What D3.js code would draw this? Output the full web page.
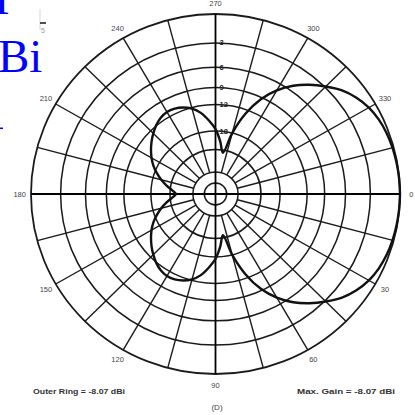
<!DOCTYPE html>
<html>
<head>
<meta charset="utf-8">
<script src="https://cdn.jsdelivr.net/npm/d3@7"></script>
<style>
  html, body { margin: 0; padding: 0; background: #fff; }
  svg { display: block; }
</style>
</head>
<body>
<svg id="chart" width="415" height="415"></svg>
<script>
// Azimuth pattern, ARRL-style log-periodic radial scale (0 dB = outer ring).
const patternAngles = [
  0, 5, 10, 15, 20, 25, 30, 35, 40, 45, 50, 55,
  60, 65, 70, 75, 80, 85, 90, 95, 100, 105, 110, 115,
  120, 125, 130, 135, 140, 145, 150, 155, 160, 165, 170, 175,
  180, 185, 190, 195, 200, 205, 210, 215, 220, 225, 230, 235,
  240, 245, 250, 255, 260, 265, 270, 275, 280, 285, 290, 295,
  300, 305, 310, 315, 320, 325, 330, 335, 340, 345, 350, 355
];
const patternGainDb = [
  0, -0.02, -0.06, -0.12, -0.22, -0.4, -0.7, -1.2, -1.9, -2.9, -4.0, -5.3,
  -7.0, -9.3, -12.8, -18.0, -25.0, -21.0, -17.5, -15.3, -13.4, -12.2, -11.5, -11.1,
  -11.0, -11.3, -11.9, -12.7, -13.6, -14.6, -15.7, -17.0, -18.6, -20.4, -22.5, -24.8,
  -26.4, -24.8, -22.5, -20.4, -18.6, -17.0, -15.7, -14.6, -13.6, -12.7, -11.9, -11.3,
  -11.0, -11.1, -11.5, -12.2, -13.4, -15.3, -17.5, -21.0, -25.0, -18.0, -12.8, -9.3,
  -7.0, -5.3, -4.0, -2.9, -1.9, -1.2, -0.7, -0.4, -0.22, -0.12, -0.06, -0.02
];

// Grid
const ringLevelsDb = [0, -3, -6, -9, -12, -18, -24, -36, -48];
const ringLabelDb = [-3, -6, -9, -12, -18];
const ringLabelText = ["3", "6", "9", "12", "18"];
const spokeAngles = [15, 30, 45, 60, 75, 105, 120, 135, 150, 165, 195, 210, 225, 240, 255, 285, 300, 315, 330, 345];
const axisAngles = [0, 90];
const angleTickValues = [0, 30, 60, 90, 120, 150, 180, 210, 240, 270, 300, 330];
const angleTickText = ["0", "30", "60", "90", "120", "150", "180", "210", "240", "270", "300", "330"];

const footerLeft = "Outer Ring = -8.07 dBi";
const footerRight = "Max. Gain = -8.07 dBi";
const footerCaption = "(D)";

const cx = 215.5, cy = 194, R = 180, sx = 1.025;
const innerSpokeDb = -36;

const svg = d3.select("#chart");

// power ratio^0.2533 reproduces the 0.89-per-2-dB log-periodic grid
const rScale = d3.scalePow().exponent(0.2533).domain([0, 1]).range([0, R]);
const rDb = db => rScale(Math.pow(10, db / 10));
const toRad = deg => (deg + 90) * Math.PI / 180; // 0° at right, clockwise

const plot = svg.append("g").attr("transform", `translate(${cx},${cy}) scale(${sx},1)`);

// rings
plot.selectAll("circle.ring").data(ringLevelsDb).join("circle")
  .attr("class", "ring")
  .attr("r", d => rDb(d))
  .attr("fill", "none")
  .attr("stroke", "#1a1a1a")
  .attr("stroke-width", d => d === 0 ? 1.8 : 1.5)
  .attr("vector-effect", "non-scaling-stroke");

// spokes
const r0 = rDb(innerSpokeDb);
plot.selectAll("line.spoke").data(spokeAngles).join("line")
  .attr("class", "spoke")
  .attr("x1", d => r0 * Math.sin(toRad(d)))
  .attr("y1", d => -r0 * Math.cos(toRad(d)))
  .attr("x2", d => R * Math.sin(toRad(d)))
  .attr("y2", d => -R * Math.cos(toRad(d)))
  .attr("stroke", "#1a1a1a")
  .attr("stroke-width", 1.4)
  .attr("vector-effect", "non-scaling-stroke");

// main axes through the centre
plot.selectAll("line.axis").data(axisAngles).join("line")
  .attr("class", "axis")
  .attr("x1", d => -R * Math.sin(toRad(d)))
  .attr("y1", d => R * Math.cos(toRad(d)))
  .attr("x2", d => R * Math.sin(toRad(d)))
  .attr("y2", d => -R * Math.cos(toRad(d)))
  .attr("stroke", "#000")
  .attr("stroke-width", 1.8)
  .attr("vector-effect", "non-scaling-stroke");

// pattern trace
const patternData = patternAngles.map((a, i) => ({ a, db: patternGainDb[i] }));
const radial = d3.lineRadial()
  .angle(d => toRad(d.a))
  .radius(d => rDb(d.db))
  .curve(d3.curveCatmullRomClosed.alpha(0.5));
plot.append("path")
  .datum(patternData)
  .attr("d", radial)
  .attr("fill", "none")
  .attr("stroke", "#111")
  .attr("stroke-width", 2.4)
  .attr("stroke-linejoin", "round")
  .attr("vector-effect", "non-scaling-stroke");

// ring level labels along the 270° axis
svg.selectAll("text.ringlab").data(ringLabelDb).join("text")
  .attr("class", "ringlab")
  .attr("x", cx + 4)
  .attr("y", d => cy - rDb(d))
  .attr("dominant-baseline", "central")
  .attr("font-family", "Liberation Sans, Arial, sans-serif")
  .attr("font-size", 7.5)
  .attr("font-weight", "bold")
  .attr("fill", "#222")
  .text((d, i) => ringLabelText[i]);

// azimuth labels
const labR = 191;
svg.selectAll("text.azlab").data(angleTickValues).join("text")
  .attr("class", "azlab")
  .attr("x", d => cx + sx * labR * Math.sin(toRad(d)))
  .attr("y", d => cy - labR * Math.cos(toRad(d)))
  .attr("text-anchor", "middle")
  .attr("dominant-baseline", "central")
  .attr("font-family", "Liberation Sans, Arial, sans-serif")
  .attr("font-size", 7.5)
  .attr("fill", "#444")
  .text((d, i) => angleTickText[i]);

// footer
svg.append("text")
  .attr("x", 33).attr("y", 394)
  .attr("font-family", "Liberation Sans, Arial, sans-serif")
  .attr("font-size", 7.5).attr("font-weight", "bold").attr("fill", "#333")
  .attr("textLength", 92).attr("lengthAdjust", "spacingAndGlyphs")
  .text(footerLeft);
svg.append("text")
  .attr("x", 297).attr("y", 394)
  .attr("font-family", "Liberation Sans, Arial, sans-serif")
  .attr("font-size", 7.5).attr("font-weight", "bold").attr("fill", "#333")
  .attr("textLength", 98).attr("lengthAdjust", "spacingAndGlyphs")
  .text(footerRight);
svg.append("text")
  .attr("x", 217).attr("y", 410)
  .attr("text-anchor", "middle")
  .attr("font-family", "Liberation Sans, Arial, sans-serif")
  .attr("font-size", 8).attr("fill", "#444")
  .text(footerCaption);

// overlaid heading fragment in the top-left corner
const head = svg.append("g");
head.append("rect").attr("x", 0).attr("y", 0).attr("width", 40).attr("height", 80).attr("fill", "#fff");
head.append("line").attr("x1", 40).attr("y1", 9).attr("x2", 40).attr("y2", 30)
  .attr("stroke", "#ccc").attr("stroke-width", 0.8);
head.append("text").attr("x", -6).attr("y", 14)
  .attr("font-family", "Liberation Serif, Times New Roman, serif")
  .attr("font-size", 47).attr("fill", "#0000ff").text("I");
head.append("text").attr("x", -2).attr("y", 72)
  .attr("font-family", "Liberation Serif, Times New Roman, serif")
  .attr("font-size", 47).attr("fill", "#0000ff").text("Bi");
head.append("line").attr("x1", 40).attr("y1", 23).attr("x2", 46).attr("y2", 23)
  .attr("stroke", "#222").attr("stroke-width", 1.6);
head.append("text").attr("x", 41).attr("y", 33)
  .attr("font-family", "Liberation Sans, Arial, sans-serif")
  .attr("font-size", 7).attr("fill", "#999").text("5");
head.append("rect").attr("x", 0).attr("y", 127.5).attr("width", 3).attr("height", 1.5).attr("fill", "#0000ff");
</script>
</body>
</html>
